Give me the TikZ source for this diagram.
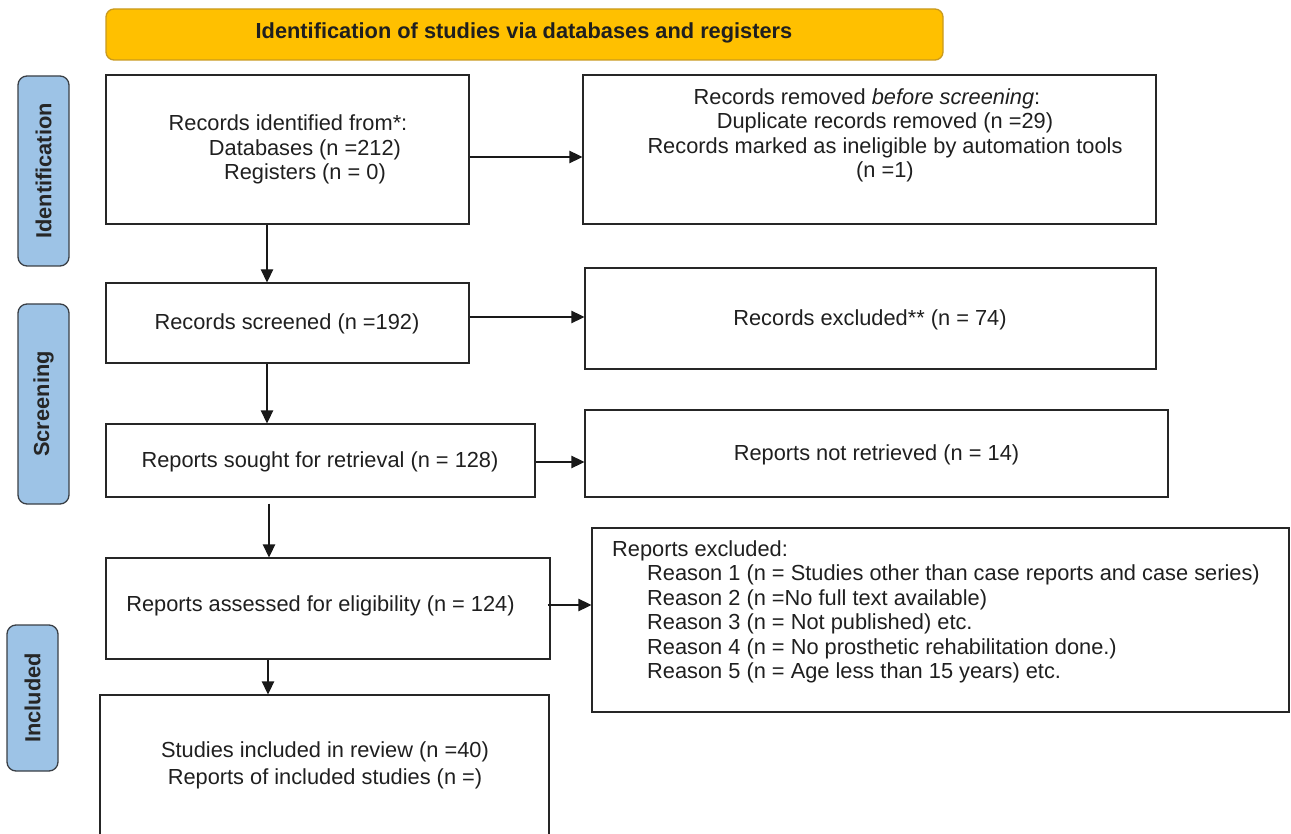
\documentclass[tikz,border=0pt]{standalone}
\usepackage{fontspec}
\setmainfont{Liberation Sans}
\usetikzlibrary{arrows.meta}

\definecolor{hdrfill}{HTML}{FFC000}
\definecolor{hdrline}{HTML}{C99A1E}
\definecolor{sidefill}{HTML}{9DC3E6}
\definecolor{sideline}{HTML}{3A3F45}

\tikzset{
  box/.style={draw=black!85, line width=1.3pt, inner sep=0pt},
  txt/.style={align=center, inner sep=0pt, text=black!88, font=\fontsize{21.8}{24.5}\selectfont},
  side/.style={draw=sideline, fill=sidefill, line width=1.3pt, rounded corners=9pt, rotate=90,
    inner sep=0pt, minimum height=51pt, text=black!85, font=\bfseries\fontsize{21.8}{24.5}\selectfont},
  arr/.style={line width=1.3pt, black!90, -{Triangle[length=13pt,width=12.5pt]}}
}

\begin{document}
\begin{tikzpicture}[x=1pt,y=-1pt]
    \useasboundingbox (0,0) rectangle (1291,834);
    \clip (0,0) rectangle (1291,834);

    % Header
    \node[draw=hdrline, fill=hdrfill, line width=1.3pt, rounded corners=8pt, inner sep=0pt,
      minimum width=837pt, minimum height=51pt] (header) at (524.5,34.5) {};
    \node[txt, font=\bfseries\fontsize{21.8}{24.5}\selectfont] (headerT) at (524,32.5)
      {Identification of studies via databases and registers};

    % Side labels
    \node[side, minimum width=190pt] (sideIdent) at (43.5,171) {Identification};
    \node[side, minimum width=200pt] (sideScreen) at (43.5,404) {Screening};
    \node[side, minimum width=146pt] (sideIncl) at (32.5,698) {Included};

    % Identification
    \node[box, minimum width=363pt, minimum height=149pt] (ident) at (287.5,149.5) {};
    \node[txt] (identT) at (288,149.5) {Records identified from*:\\
      \hspace*{34pt}Databases (n =212)\\
      \hspace*{34pt}Registers (n = 0)};

    \node[box, minimum width=573pt, minimum height=149pt] (removed) at (869.5,149.5) {};
    \node[txt] (removedT) at (885,135.5) {Records removed \textit{before screening}:\hspace*{36pt}\\
      Duplicate records removed (n =29)\\
      Records marked as ineligible by automation tools\\
      (n =1)};

    % Screening
    \node[box, minimum width=363pt, minimum height=80pt] (screen) at (287.5,323) {};
    \node[txt] (screenT) at (287,324) {Records screened (n =192)};

    \node[box, minimum width=571pt, minimum height=101pt] (excl) at (870.5,318.5) {};
    \node[txt] (exclT) at (870,320) {Records excluded** (n = 74)};

    \node[box, minimum width=429pt, minimum height=73pt] (sought) at (320.5,460.5) {};
    \node[txt] (soughtT) at (320,462) {Reports sought for retrieval (n = 128)};

    \node[box, minimum width=583pt, minimum height=87pt] (notret) at (876.5,453.5) {};
    \node[txt] (notretT) at (876.5,455) {Reports not retrieved (n = 14)};

    \node[box, minimum width=444pt, minimum height=101pt] (assess) at (328,608.5) {};
    \node[txt] (assessT) at (320.5,606) {Reports assessed for eligibility (n = 124)};

    \node[box, minimum width=697pt, minimum height=184pt] (rexcl) at (940.5,620) {};
    \node[txt, align=left, anchor=west] (rexclT) at (612,612) {Reports excluded:\\
      \hspace*{35pt}Reason 1 (n = Studies other than case reports and case series)\\
      \hspace*{35pt}Reason 2 (n =No full text available)\\
      \hspace*{35pt}Reason 3 (n = Not published) etc.\\
      \hspace*{35pt}Reason 4 (n = No prosthetic rehabilitation done.)\\
      \hspace*{35pt}Reason 5 (n = Age less than 15 years) etc.};

    % Included
    \node[box, minimum width=449pt, minimum height=205pt] (incl) at (324.5,797.5) {};
    \node[txt] (inclT) at (325,765) {Studies included in review (n =40)\\[2.5pt]
      Reports of included studies (n =)};

    % Arrows
    \draw[arr] ([yshift=-7.5pt]ident.east) -- ([yshift=-7.5pt]ident.east -| removed.west);
    \draw[arr] ([yshift=6pt]screen.east) -- ([yshift=6pt]screen.east -| excl.west);
    \draw[arr] ([yshift=-1.5pt]sought.east) -- ([yshift=-1.5pt]sought.east -| notret.west);
    \draw[arr] ([yshift=3.5pt,xshift=-3pt]assess.east) -- ([yshift=3.5pt]assess.east -| rexcl.west);

    \draw[arr] ([xshift=-20.5pt]ident.south) -- ([xshift=-20.5pt]ident.south |- screen.north);
    \draw[arr] ([xshift=-20.5pt]screen.south) -- ([xshift=-20.5pt]screen.south |- sought.north);
    \draw[arr, shorten <=6pt] ([xshift=-51.5pt]sought.south) -- ([xshift=-51.5pt]sought.south |- assess.north);
    \draw[arr] ([xshift=-60pt]assess.south) -- ([xshift=-60pt]assess.south |- incl.north);

\end{tikzpicture}
\end{document}
